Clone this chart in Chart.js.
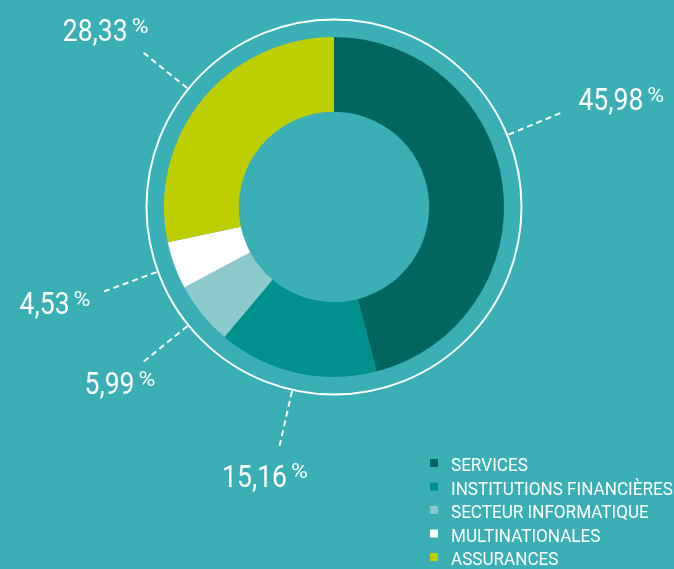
<!DOCTYPE html>
<html>
<head>
<meta charset="utf-8">
<script src="https://cdn.jsdelivr.net/npm/chart.js@4"></script>
<style>
  html, body { margin: 0; padding: 0; background: #3AAFB6; }
  #wrap { position: relative; width: 674px; height: 569px; }
</style>
</head>
<body>
<div id="wrap"><canvas id="c" width="674" height="569"></canvas></div>
<script>
// ---- data ----
const categories = ['SERVICES', 'INSTITUTIONS FINANCIÈRES', 'SECTEUR INFORMATIQUE', 'MULTINATIONALES', 'ASSURANCES'];
const shares = [45.98, 15.16, 5.99, 4.53, 28.33];
const sliceColors = ['#03655F', '#00918F', '#8DC8CD', '#FFFFFF', '#BDCF00'];

// ---- layout / style (not data) ----
const leaderAngleShift = [-15.3, 0, 0, 0, 0];      // degrees
const labelAngleShift  = [-13.4, 1.6, -0.3, 1.2, -1.2]; // degrees
const labelRadiusExtra = [137, 107, 107, 125, 119];  // px beyond outer radius

const FONT = "Roboto, 'Liberation Sans', sans-serif";

function fmt(v) { return v.toFixed(2).replace('.', ','); }

function scaledText(ctx, text, x, y, sx) {
  ctx.save();
  ctx.translate(x, y);
  ctx.scale(sx, 1);
  ctx.fillText(text, 0, 0);
  ctx.restore();
}

const decorPlugin = {
  id: 'decor',
  afterDatasetsDraw(chart) {
    const ctx = chart.ctx;
    const meta = chart.getDatasetMeta(0);
    const a0 = meta.data[0];
    const cx = a0.x, cy = a0.y, R = a0.outerRadius;
    const deg = Math.PI / 180;
    ctx.save();
    // outer ring
    ctx.strokeStyle = '#FFFFFF';
    ctx.lineWidth = 2;
    ctx.beginPath();
    ctx.arc(cx, cy, R + 17.5, 0, Math.PI * 2);
    ctx.stroke();

    const numScale = 0.83, numSize = 32, pctSize = 20, pctScale = 1.15;
    meta.data.forEach((arc, i) => {
      const mid = (arc.startAngle + arc.endAngle) / 2;
      // leader
      const a = mid + leaderAngleShift[i] * deg;
      const ca = Math.cos(a), sa = Math.sin(a);
      ctx.setLineDash([6, 4]);
      ctx.lineWidth = 2;
      ctx.beginPath();
      ctx.moveTo(cx + (R + 19) * ca, cy + (R + 19) * sa);
      ctx.lineTo(cx + (R + 76) * ca, cy + (R + 76) * sa);
      ctx.stroke();
      ctx.setLineDash([]);

      // label
      const la = mid + labelAngleShift[i] * deg;
      const rl = R + labelRadiusExtra[i];
      const bx = cx + rl * Math.cos(la), by = cy + rl * Math.sin(la);
      const num = fmt(shares[i]);
      ctx.font = `400 ${numSize}px ${FONT}`;
      const wNum = ctx.measureText(num).width * numScale;
      ctx.font = `400 ${pctSize}px ${FONT}`;
      const wPct = ctx.measureText('%').width * pctScale;
      const gap = 4;
      const total = wNum + gap + wPct;
      const hh = 11.5;
      const left = bx - total / 2;
      ctx.fillStyle = '#FFFFFF';
      ctx.textBaseline = 'alphabetic';
      ctx.textAlign = 'left';
      ctx.font = `400 ${numSize}px ${FONT}`;
      scaledText(ctx, num, left, by + hh, numScale);
      ctx.font = `400 ${pctSize}px ${FONT}`;
      scaledText(ctx, '%', left + wNum + gap, by - hh + 14.5, pctScale);
    });

    // legend
    const lx = 430, ly = 471, step = 23.5;
    ctx.font = `400 18px ${FONT}`;
    categories.forEach((name, i) => {
      const y = ly + i * step;
      ctx.fillStyle = sliceColors[i];
      ctx.fillRect(lx, y - 12, 8, 8);
      ctx.fillStyle = '#FFFFFF';
      scaledText(ctx, name, lx + 21, y, 0.95);
    });
    ctx.restore();
  }
};

new Chart(document.getElementById('c'), {
  type: 'doughnut',
  data: {
    labels: categories,
    datasets: [{
      data: shares,
      backgroundColor: sliceColors,
      borderWidth: 0,
      hoverOffset: 0
    }]
  },
  options: {
    responsive: false,
    animation: false,
    cutout: '56%',
    layout: { padding: { left: 164, right: 170, top: 37, bottom: 192 } },
    plugins: {
      legend: { display: false },
      tooltip: { enabled: false }
    }
  },
  plugins: [decorPlugin]
});
</script>
</body>
</html>
